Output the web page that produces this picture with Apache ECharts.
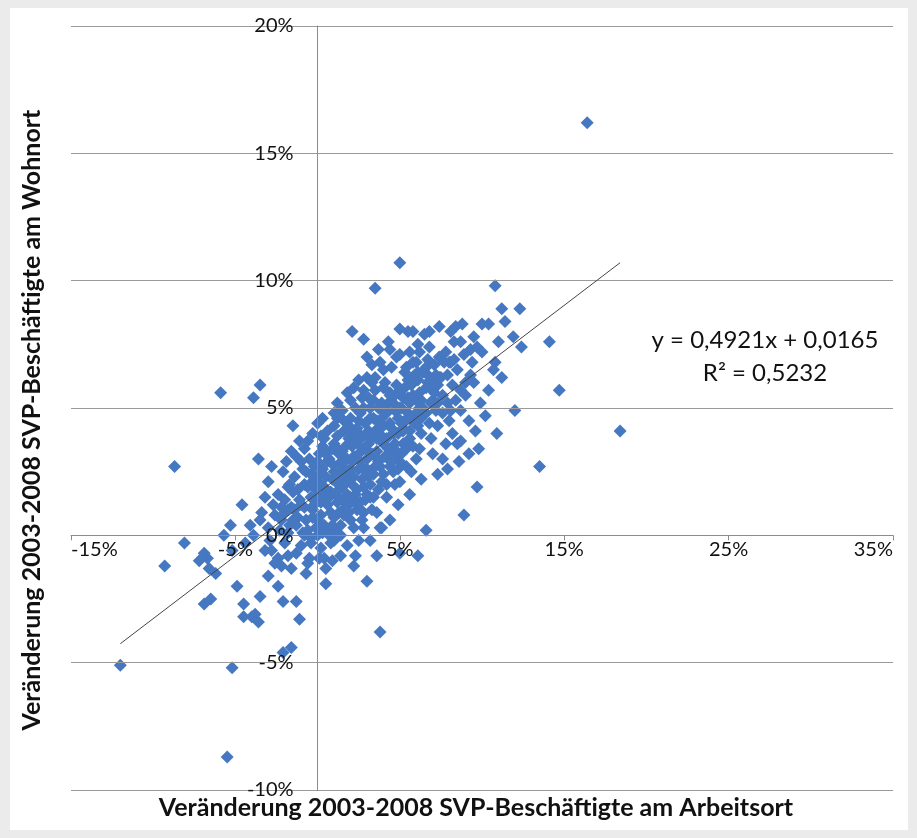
<!DOCTYPE html>
<html>
<head>
<meta charset="utf-8">
<script src="https://cdn.jsdelivr.net/npm/echarts@6/dist/echarts.min.js"></script>
<style>
html,body{margin:0;padding:0;background:#ebebeb;width:917px;height:838px;overflow:hidden;}
#panel{position:absolute;left:10px;top:8px;width:898px;height:822px;background:#fff;}
#chart{position:absolute;left:0;top:0;width:917px;height:838px;}
</style>
</head>
<body>
<div id="panel"></div>
<div id="chart"></div>
<script>
// Percent values: change at workplace (x) vs change at residence (y)
const xValues = [
16.4,5.0,3.5,10.8,11.2,12.3,11.4,11.9,12.4,14.1,14.7,12.0,13.5,18.4,9.7,8.9,6.6,4.9,5.0,6.1,
3.9,7.3,7.6,7.0,6.2,7.8,8.5,8.2,7.3,9.6,5.7,4.7,5.0,5.0,-5.2,-2.1,-1.6,-1.1,-3.6,-3.8,
-4.5,-4.5,-3.5,-2.1,-1.3,-2.4,-4.9,-6.5,-6.9,0.5,3.0,3.8,-0.7,-0.6,-1.6,-2.2,-2.6,-12.0,-5.5,-9.3,
-8.1,-6.9,-7.2,-6.7,-6.6,-6.2,-5.2,-5.7,-5.3,-4.0,-4.1,-5.9,-3.5,-3.9,2.1,2.8,3.3,3.5,2.8,1.2,
-8.7,-1.5,-3.6,-3.0,-1.8,-2.1,-1.3,-1.6,-0.8,-2.2,-1.8,-3.5,-3.9,-3.0,0.1,0.4,-1.8,-2.4,-2.8,-3.2,
1.4,2.3,3.6,3.8,2.8,3.2,2.5,1.4,1.0,0.0,-0.4,-0.8,2.8,2.6,3.2,2.0,4.4,4.8,5.5,1.4,
1.0,3.8,4.4,5.0,0.4,10.4,10.0,8.4,8.8,6.8,5.8,8.1,9.5,9.7,9.3,7.8,8.3,8.1,9.4,10.8,
10.7,9.3,10.4,8.7,9.0,7.0,7.4,6.7,6.2,5.6,5.4,6.1,6.7,7.3,6.0,7.0,6.2,7.9,8.1,8.7,
10.2,8.7,5.2,
-2.6,-2.4,-2.3,-2.0,-1.9,-1.7,-1.5,-1.4,-1.2,-1.1,-1.0,-1.0,-0.9,-0.7,-0.6,-0.5,-0.4,-0.3,-0.2,-0.1,
0.0,0.1,0.2,0.2,0.3,0.4,0.5,0.6,0.6,0.7,0.8,0.9,1.0,1.0,1.1,1.2,1.3,1.4,1.5,1.5,
1.6,1.7,1.8,1.9,2.0,2.0,2.1,2.2,2.3,2.3,2.4,2.5,2.6,2.7,2.7,2.8,2.9,3.0,3.0,3.1,
3.2,3.3,3.3,3.4,3.5,3.5,3.6,3.7,3.8,3.8,3.9,4.0,4.0,4.1,4.2,4.2,4.3,4.4,4.5,4.5,
4.6,4.7,4.8,4.9,5.0,5.1,5.2,5.3,5.4,5.5,5.6,5.7,5.8,5.9,6.0,6.1,6.2,6.3,6.4,6.6,
6.8,6.9,7.0,7.2,7.4,7.6,7.9,8.0,8.4,8.7,9.0,9.2,9.9,10.0,11.0,11.2,-3.2,-2.8,-2.9,-3.4,
-4.4,-4.6,-3.0,-2.0,-1.3,0.5,1.8,2.2,0.9,-0.5,3.6,4.4,5.6,6.3,7.9,8.6,
9.2,0.3,-0.3,1.8,2.5,3.7,4.3,5.0,6.5,7.4,10.9,9.8,
-1.8,-1.6,-1.2,-0.8,-0.6,-0.4,-0.2,0.0,0.2,0.3,0.5,0.7,0.8,0.9,1.1,1.2,1.2,1.4,1.6,1.6,
1.8,1.9,2.1,2.2,2.4,2.4,2.6,2.7,2.9,2.9,3.1,3.2,3.4,3.5,3.6,3.8,3.9,4.1,4.2,4.3,
4.4,4.6,4.7,4.9,5.1,5.2,5.3,5.5,5.6,5.8,6.0,6.1,6.3,6.6,6.8,7.1,7.3,7.7,8.2,8.5,
8.9,9.5,1.0,2.0,3.0,0.0,-0.6,4.0,
-1.5,-1.1,-0.9,-0.7,-0.3,-0.1,0.1,0.3,0.4,0.6,0.8,0.9,1.1,1.3,1.3,1.5,1.7,1.7,1.9,2.0,
2.1,2.3,2.5,2.5,2.6,2.8,2.8,3.0,3.1,3.2,3.4,3.6,3.7,3.9,4.0,4.1,4.3,4.4,4.6,4.7,
4.8,5.0,5.2,5.4,5.5,5.7,5.9,6.1,6.4,6.6,6.9,7.2,7.6,8.0,8.3,0.2,-0.4,-1.3,-2.2,-2.7,
-2.0,-1.7,-1.4,-1.0,-0.8,-0.5,-0.2,0.0,0.2,0.4,0.5,0.7,0.9,1.0,1.2,1.3,1.5,1.6,1.8,1.9,
2.1,2.2,2.4,2.5,2.6,2.8,3.0,3.1,3.3,3.4,3.5,3.7,3.9,4.0,4.2,4.5,4.7,4.9,5.1,5.3,
5.6,5.8,6.0,6.3,6.7,7.1,7.5,3.3,2.2,1.5
];
const yValues = [
16.2,10.7,9.7,9.8,8.9,8.9,8.4,7.8,7.4,7.6,5.7,4.9,2.7,4.1,1.9,0.8,0.2,1.2,-0.7,-0.8,
0.3,2.4,3.0,3.2,3.4,3.6,3.6,4.0,4.3,4.1,2.5,2.0,2.1,2.9,-5.2,-4.6,-4.4,-3.3,-3.4,-3.1,
-3.2,-2.7,-2.4,-2.6,-2.6,-2.0,-2.0,-2.5,-2.7,-1.9,-1.8,-3.8,-1.5,-1.1,-1.3,-1.2,-1.1,-5.1,-8.7,-1.2,
-0.3,-0.7,-1.0,-0.9,-1.3,-1.5,-0.6,0.0,0.4,-3.2,0.4,5.6,5.9,5.4,8.0,7.7,6.7,6.2,5.7,5.2,
2.7,4.3,3.0,2.1,1.9,2.5,3.1,3.3,3.4,1.1,1.0,0.6,0.0,0.3,-0.9,-0.9,-0.8,-0.9,-0.6,-0.6,
-0.8,-0.8,-0.8,0.3,0.3,-0.2,-0.2,0.0,-0.2,0.0,-0.1,0.0,0.9,1.3,1.5,1.5,7.3,7.0,8.0,4.9,
4.3,5.0,5.6,5.0,3.8,8.3,8.3,8.2,8.3,8.0,8.0,8.0,7.8,7.4,7.3,7.2,6.9,6.8,6.8,6.8,
6.5,6.3,5.7,5.7,5.5,5.7,6.2,6.9,7.2,7.2,6.6,6.1,6.3,5.9,5.3,5.3,5.0,5.2,4.9,4.9,
4.7,3.7,4.1,
0.8,1.6,0.2,1.4,2.9,0.4,1.7,2.3,0.7,3.7,1.2,-0.4,2.6,0.6,1.9,3.0,-0.3,1.0,2.2,0.3,
1.5,3.2,-0.5,0.8,2.6,1.9,0.2,4.1,1.2,3.0,-0.3,2.2,0.7,3.6,1.6,4.6,2.8,0.4,1.9,3.3,
4.1,1.1,2.5,3.8,0.6,4.6,2.0,3.1,5.0,1.3,4.2,2.6,3.5,0.6,5.4,1.9,4.4,3.0,6.2,2.3,
5.0,3.8,1.0,4.6,2.7,5.7,3.3,1.8,4.2,6.8,5.2,2.4,3.6,6.0,4.8,1.5,3.0,5.5,4.2,6.6,
2.5,3.6,5.9,4.6,7.1,3.2,5.4,6.4,2.7,4.8,3.8,5.9,6.8,4.4,3.0,7.5,5.6,4.0,6.4,4.8,
7.4,3.8,6.0,4.9,7.0,5.5,6.3,4.5,5.3,7.6,6.0,4.5,5.2,7.2,7.6,6.2,1.5,2.7,-0.2,0.9,
-0.3,1.2,-1.6,-0.3,-0.7,-1.3,-0.4,-1.2,-1.0,-0.9,0.9,0.6,1.6,2.2,2.6,2.9,
3.2,4.6,4.0,5.6,6.1,7.3,7.6,8.1,7.9,8.2,4.0,3.4,
0.1,1.1,1.8,2.0,0.2,1.5,2.7,0.6,1.3,3.5,2.3,0.0,1.7,2.8,0.2,1.3,3.9,2.4,0.8,3.0,
1.6,4.3,2.9,0.3,1.8,3.7,4.8,2.2,1.4,3.4,4.1,2.0,5.3,3.1,4.5,2.7,3.9,5.0,2.0,3.4,
4.4,5.2,3.0,4.0,5.0,3.6,4.5,6.1,5.2,3.5,4.8,6.4,5.3,5.8,4.4,6.7,5.2,6.8,5.9,6.5,
7.1,6.0,4.8,5.3,7.0,4.4,3.7,6.5,
0.6,1.4,0.1,2.5,0.7,1.8,2.4,0.1,1.6,2.9,0.9,3.4,2.1,0.9,3.2,1.4,2.2,3.5,0.9,2.6,
4.0,1.6,3.2,4.5,1.0,2.6,5.0,1.6,3.6,4.6,2.4,3.8,5.0,2.1,4.3,3.1,5.2,2.7,4.0,4.9,
3.3,5.6,4.2,3.4,5.4,4.6,6.3,4.3,5.0,6.6,5.2,6.3,4.8,6.8,7.6,3.9,2.4,0.4,0.6,1.2,
0.9,2.0,1.0,2.9,1.1,2.0,1.2,2.9,2.0,0.4,3.2,1.5,0.4,2.5,3.4,1.8,2.7,4.5,3.0,1.2,
3.5,2.3,1.0,4.0,2.9,3.9,2.6,5.4,3.2,1.5,4.1,2.9,4.6,5.8,3.8,3.3,5.5,2.6,4.4,5.8,
4.1,5.5,6.8,4.6,6.0,5.6,6.2,6.0,5.8,4.9
];
const xTicks = { min: -15, max: 35, step: 10 };
const yTicks = { min: -10, max: 20, step: 5 };
const trendSlope = 0.4921;
const trendIntercept = 0.0165;
const equationLine1 = 'y = 0,4921x + 0,0165';
const equationLine2 = 'R² = 0,5232';
const xTitle = 'Veränderung 2003-2008 SVP-Beschäftigte am Arbeitsort';
const yTitle = 'Veränderung 2003-2008 SVP-Beschäftigte am Wohnort';

const points = xValues.map((x, i) => [x, yValues[i]]);
const xMin = Math.min(...xValues), xMax = Math.max(...xValues);
const trend = [xMin, xMax].map(x => [x, trendSlope * x + trendIntercept * 100]);

const W = 917, H = 838;
const G = { left: 71, right: 24, top: 26, bottom: 48 };
const gw = W - G.left - G.right, gh = H - G.top - G.bottom;
// move axes (line + labels) to cross at zero
const xAxisOffset = -gh * (0 - yTicks.min) / (yTicks.max - yTicks.min);
const yAxisOffset = -gw * (0 - xTicks.min) / (xTicks.max - xTicks.min);

const FONT = 'Lato, "Open Sans", sans-serif';
const chart = echarts.init(document.getElementById('chart'), null, { renderer: 'canvas' });
chart.setOption({
  animation: false,
  backgroundColor: 'transparent',
  grid: { left: G.left, right: G.right, top: G.top, bottom: G.bottom, containLabel: false },
  xAxis: {
    type: 'value', min: xTicks.min, max: xTicks.max, interval: xTicks.step, z: 5,
    position: 'bottom', offset: xAxisOffset,
    axisLine: { onZero: false, lineStyle: { color: '#8c8c8c', width: 1 } },
    axisTick: { show: true, length: 5, lineStyle: { color: '#8c8c8c' } },
    splitLine: { show: false },
    axisLabel: { formatter: '{value}%', fontFamily: FONT, fontSize: 20, color: '#111', margin: 4,
      alignMinLabel: 'left', alignMaxLabel: 'right' }
  },
  yAxis: {
    type: 'value', min: yTicks.min, max: yTicks.max, interval: yTicks.step, z: 5,
    position: 'left', offset: yAxisOffset,
    axisLine: { show: true, onZero: false, lineStyle: { color: '#8c8c8c', width: 1 } },
    axisTick: { show: false },
    splitLine: { show: true, lineStyle: { color: '#9a9a9a', width: 1 } },
    axisLabel: { formatter: '{value}%', fontFamily: FONT, fontSize: 20, color: '#111', margin: 24 }
  },
  graphic: [
    { type: 'text', x: 476, y: 808, style: { text: xTitle, font: 'bold 25px ' + FONT, fill: '#111', align: 'center', verticalAlign: 'middle' } },
    { type: 'text', x: 19, y: 420, rotation: Math.PI / 2, style: { text: yTitle, font: 'bold 25px ' + FONT, fill: '#111', align: 'center', verticalAlign: 'top' } },
    { type: 'text', x: 765, y: 340, style: { text: equationLine1, font: '24px ' + FONT, fill: '#111', align: 'center', verticalAlign: 'middle' } },
    { type: 'text', x: 765, y: 373, style: { text: equationLine2, font: '24px ' + FONT, fill: '#111', align: 'center', verticalAlign: 'middle' } }
  ],
  series: [
    { type: 'scatter', data: points, symbol: 'diamond', symbolSize: [13, 13], z: 3,
      itemStyle: { color: '#4678c2', opacity: 1 } },
    { type: 'line', data: trend, symbol: 'none', z: 6,
      lineStyle: { color: '#444', width: 1 } }
  ]
});
</script>
</body>
</html>
